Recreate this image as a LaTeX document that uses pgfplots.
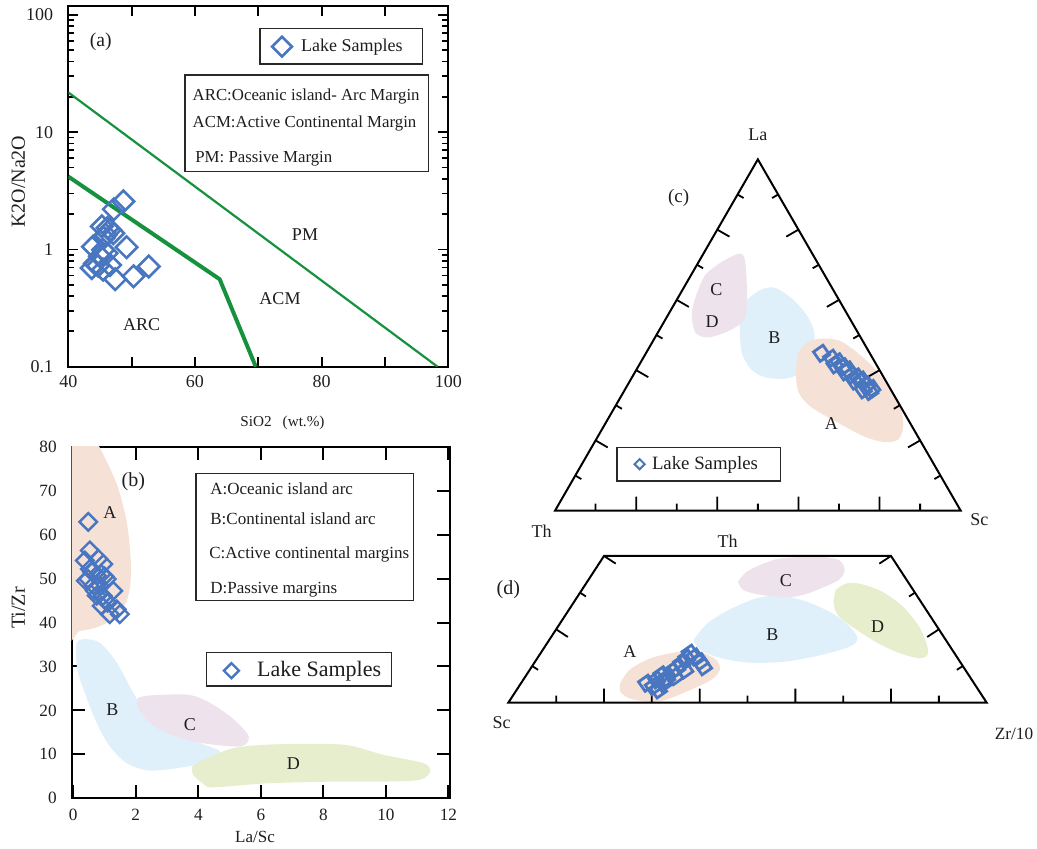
\documentclass[border=0pt]{standalone}
\usepackage{fontspec}
\setmainfont{Liberation Serif}
\usepackage{pgfplots}
\pgfplotsset{compat=1.18}
\definecolor{mk}{RGB}{72,118,192}
\definecolor{grl}{RGB}{22,146,62}
\definecolor{cA}{RGB}{246,225,214}
\definecolor{cB}{RGB}{223,240,250}
\definecolor{cC}{RGB}{238,226,236}
\definecolor{cD}{RGB}{231,238,206}
\definecolor{txt}{RGB}{30,30,30}
\definecolor{bx}{RGB}{40,40,40}
\newcommand{\fs}[1]{\fontsize{#1}{#1}\selectfont}
\pgfplotsset{
  reg/.style={fill=#1, draw=none, smooth, forget plot},
  edge/.style={black, line width=1pt, line join=miter, forget plot},
  tk/.style={black, line width=0.9pt, forget plot, unbounded coords=jump},
}
\begin{document}
\begin{tikzpicture}
\useasboundingbox (0,0) rectangle (518.5pt,424.5pt);
% ---------------- (a)
\begin{axis}[at={(34.15pt,241.15pt)}, anchor=south west, scale only axis,
  width=190pt, height=180.35pt,
  xmin=40, xmax=100, ymin=0.1, ymax=119, ymode=log,
  xtick={40,50,60,70,80,90,100}, xticklabels={40,,60,,80,,100},
  ytick={0.1,1,10,100}, yticklabels={0.1,1,10,100},
  minor ytick={0.2,0.3,0.4,0.5,0.6,0.7,0.8,0.9,2,3,4,5,6,7,8,9,20,30,40,50,60,70,80,90},
  major tick length=5pt, minor tick length=3pt,
  tick style={line width=0.9pt, black},
  axis line style={line width=0.9pt, black},
  ticklabel style={font=\fs{9}, text=txt},
  yticklabel style={xshift=-4pt}, xticklabel style={yshift=-1pt},
  legend style={draw=none, fill=none, at={(0.5353,0.8872)}, anchor=west,
    inner sep=0pt, nodes={inner sep=0pt}, column sep=4.65pt, font=\fs{9}, text=txt},
]
\addplot[grl, line width=1.1pt, forget plot] coordinates {(40,21.8) (98.3,0.1)};
\addplot[grl, line width=2pt, forget plot] coordinates {(40,4.18) (63.9,0.557) (69.6,0.1)};
\addplot[only marks, mark=square, mark size=3.8pt,
  mark options={rotate=45, line width=1.3pt, draw=mk, fill=none},
  legend image code/.code={\draw[mk, line width=1.3pt, mark=square, mark size=3.5pt, mark options={rotate=45}] plot coordinates {(0pt,0pt)};}]
coordinates {
(48.7,2.57) (47.2,2.20) (45.3,1.57) (46.6,1.47) (47.1,1.375) (45.9,1.332) (43.9,1.054)
(49.2,1.044) (45.5,0.991) (45.0,0.874) (44.2,0.758) (46.6,0.736) (52.7,0.715) (43.7,0.694)
(45.5,0.673) (47.4,0.557) (50.3,0.589) (44.7,0.726) (46.05,0.927) (46.2,1.524) (45.6,1.257)
};
\addlegendentry{Lake Samples}
\end{axis}
% ---------------- (b)
\begin{axis}[at={(35.85pt,25.35pt)}, anchor=south west, scale only axis,
  width=189.15pt, height=175.8pt,
  xmin=-0.05, xmax=12.05, ymin=0, ymax=80,
  xtick={0,2,4,6,8,10,12}, xticklabels={0,2,4,6,8,10,12},
  ytick={0,10,20,30,40,50,60,70,80}, yticklabels={0,10,20,30,40,50,60,70,80},
  major tick length=6.5pt,
  tick style={line width=1pt, black},
  axis line style={line width=1pt, black},
  ticklabel style={font=\fs{8.6}, text=txt},
  yticklabel style={xshift=-4pt}, xticklabel style={yshift=-2pt},
  legend style={draw=none, fill=none, at={(0.4013,0.3629)}, anchor=west,
    inner sep=0pt, nodes={inner sep=0pt}, column sep=9.1pt, font=\fs{11}, text=txt},
]
\addplot[reg=cA] coordinates {(-0.3,82) (0.6,82) (1.07,76.6) (1.44,70.5) (1.71,62.9) (1.83,55.2) (1.83,49.1) (1.69,44.6) (1.28,40.8) (0.75,38.9) (0.21,38.1) (-0.3,37.9) (-0.3,82)};
\addplot[reg=cB] coordinates {(0.43,36.2) (0.85,35.4) (1.39,30.9) (1.92,24.0) (2.35,19.4) (3.2,15.6) (4.05,12.6) (4.69,10.7) (4.48,8.8) (3.63,7.2) (2.45,6.3) (1.71,8.0) (1.17,11.8) (0.75,17.1) (0.37,24.0) (0.13,29.3) (0.11,35.4) (0.43,36.2)};
\addplot[reg=cC] coordinates {(2.08,22.9) (2.45,23.4) (3.63,23.6) (4.27,22.1) (5.01,18.7) (5.55,14.9) (5.6,13.0) (5.33,11.8) (4.48,12.2) (3.63,13.3) (2.77,15.6) (2.24,18.7) (2.03,21.7) (2.08,22.9)};
\addplot[reg=cD] coordinates {(3.79,7.2) (4.27,9.1) (5.12,11.4) (6.19,12.2) (7.79,12.4) (8.85,12.0) (9.92,9.9) (11.2,8.0) (11.41,6.1) (11.09,4.2) (9.92,3.8) (8.32,3.8) (6.19,3.4) (4.48,2.5) (4.16,3.3) (3.84,5.3) (3.79,7.2)};
\addplot[only marks, mark=square, mark size=3.1pt,
  mark options={rotate=45, line width=1.2pt, draw=mk, fill=none},
  legend image code/.code={\draw[mk, line width=1.2pt, mark=square, mark size=2.65pt, mark options={rotate=45}] plot coordinates {(0pt,0pt)};}]
coordinates {
(0.48,62.9) (0.53,56.4) (0.80,54.5) (0.37,54.1) (0.96,53.3) (0.53,52.2) (0.48,49.9)
(0.75,50.7) (1.07,49.9) (0.85,48.4) (1.28,47.2) (0.75,46.1) (1.01,45.3) (0.91,43.8)
(1.39,43.0) (1.17,41.9) (1.49,41.9) (0.69,47.2) (0.60,51.5) (0.90,51.0) (0.95,46.0)
(1.10,44.5) (0.65,48.5) (1.00,50.5) (0.40,49.5)
};
\addlegendentry{Lake Samples}
\node[font=\fs{10}, text=txt] at (axis cs:1.92,72.1) {(b)};
\node[font=\fs{9}, text=txt] at (axis cs:1.17,65.1) {A};
\node[font=\fs{9}, text=txt] at (axis cs:1.25,20.2) {B};
\node[font=\fs{9}, text=txt] at (axis cs:3.73,16.8) {C};
\node[font=\fs{9}, text=txt] at (axis cs:7.04,8.0) {D};
\end{axis}
% ---------------- (c)
\begin{axis}[at={(277.5pt,169.15pt)}, anchor=south west, scale only axis,
  width=202.85pt, height=175.65pt,
  xmin=0, xmax=1, ymin=0, ymax=1, hide axis, clip=false,
  legend style={draw=none, fill=none, at={(0.195,0.1324)}, anchor=west,
    inner sep=0pt, nodes={inner sep=0pt}, column sep=3.65pt, font=\fs{9.4}, text=txt},
]
\addplot[reg=cB] coordinates {(0.455,0.526) (0.468,0.592) (0.508,0.629) (0.543,0.634) (0.587,0.601) (0.622,0.554) (0.639,0.507) (0.635,0.451) (0.604,0.394) (0.569,0.376) (0.517,0.380) (0.482,0.404) (0.460,0.451) (0.455,0.526)};
\addplot[reg=cC] coordinates {(0.342,0.592) (0.368,0.667) (0.412,0.709) (0.455,0.732) (0.468,0.714) (0.473,0.638) (0.473,0.582) (0.464,0.540) (0.429,0.512) (0.377,0.493) (0.346,0.507) (0.337,0.554) (0.342,0.592)};
\addplot[reg=cA] coordinates {(0.600,0.451) (0.622,0.479) (0.657,0.490) (0.701,0.484) (0.744,0.451) (0.788,0.404) (0.832,0.338) (0.854,0.282) (0.858,0.235) (0.845,0.202) (0.814,0.195) (0.762,0.211) (0.692,0.254) (0.630,0.296) (0.600,0.338) (0.594,0.394) (0.600,0.451)};
\addplot[edge] coordinates {(0,0) (1,0) (0.5,1) (0,0) (1,0)};
\addplot[tk] coordinates {
(0.1,0) (0.1,0.0199) (0.1,nan) (0.2,0) (0.2,0.0399) (0.2,nan)
(0.3,0) (0.3,0.0199) (0.3,nan) (0.4,0) (0.4,0.0399) (0.4,nan)
(0.5,0) (0.5,0.0199) (0.5,nan) (0.6,0) (0.6,0.0399) (0.6,nan)
(0.7,0) (0.7,0.0199) (0.7,nan) (0.8,0) (0.8,0.0399) (0.8,nan)
(0.9,0) (0.9,0.0199) (0.9,nan)
(0.05,0.1) (0.0649,0.0900) (0.05,nan) (0.1,0.2) (0.1299,0.1801) (0.1,nan)
(0.15,0.3) (0.1649,0.2900) (0.15,nan) (0.2,0.4) (0.2299,0.3801) (0.2,nan)
(0.25,0.5) (0.2649,0.4900) (0.25,nan) (0.3,0.6) (0.3299,0.5801) (0.3,nan)
(0.35,0.7) (0.3649,0.6900) (0.35,nan) (0.4,0.8) (0.4299,0.7801) (0.4,nan)
(0.45,0.9) (0.4649,0.8900) (0.45,nan)
(0.95,0.1) (0.9351,0.0900) (0.95,nan) (0.9,0.2) (0.8701,0.1801) (0.9,nan)
(0.85,0.3) (0.8351,0.2900) (0.85,nan) (0.8,0.4) (0.7701,0.3801) (0.8,nan)
(0.75,0.5) (0.7351,0.4900) (0.75,nan) (0.7,0.6) (0.6701,0.5801) (0.7,nan)
(0.65,0.7) (0.6351,0.6900) (0.65,nan) (0.6,0.8) (0.5701,0.7801) (0.6,nan)
(0.55,0.9) (0.5351,0.8900)
};
\addplot[only marks, mark=square, mark size=2.9pt,
  mark options={rotate=35, line width=1.4pt, draw=mk, fill=none},
  legend image code/.code={\draw[mk, line width=1pt, mark=square, mark size=1.8pt, mark options={rotate=45}] plot coordinates {(0pt,0pt)};}]
coordinates {
(0.657,0.448) (0.682,0.434) (0.698,0.424) (0.711,0.410) (0.723,0.401) (0.731,0.386)
(0.744,0.381) (0.756,0.372) (0.768,0.358) (0.781,0.348) (0.776,0.339) (0.760,0.344)
(0.690,0.415) (0.715,0.395) (0.739,0.369)
};
\addlegendentry{Lake Samples}
\node[font=\fs{9}, text=txt] at (axis cs:0.681,0.249) {A};
\node[font=\fs{9}, text=txt] at (axis cs:0.541,0.493) {B};
\node[font=\fs{9}, text=txt] at (axis cs:0.398,0.629) {C};
\node[font=\fs{9}, text=txt] at (axis cs:0.387,0.537) {D};
\end{axis}
% ---------------- (d)
\begin{axis}[at={(254.15pt,73.15pt)}, anchor=south west, scale only axis,
  width=239.2pt, height=73.35pt,
  xmin=0, xmax=1, ymin=0, ymax=0.4, hide axis, clip=false,
]
\addplot[reg=cA] coordinates {(0.234,0.053) (0.253,0.089) (0.297,0.121) (0.357,0.139) (0.401,0.139) (0.435,0.116) (0.442,0.089) (0.424,0.062) (0.372,0.030) (0.327,0.007) (0.290,0.003) (0.253,0.012) (0.234,0.030) (0.234,0.053)};
\addplot[reg=cB] coordinates {(0.387,0.171) (0.416,0.216) (0.461,0.253) (0.520,0.285) (0.572,0.291) (0.625,0.275) (0.677,0.244) (0.714,0.207) (0.730,0.175) (0.714,0.153) (0.654,0.130) (0.580,0.112) (0.506,0.109) (0.446,0.121) (0.401,0.144) (0.387,0.171)};
\addplot[reg=cC] coordinates {(0.480,0.330) (0.498,0.357) (0.535,0.380) (0.572,0.394) (0.647,0.398) (0.691,0.389) (0.703,0.362) (0.691,0.335) (0.654,0.312) (0.617,0.294) (0.580,0.287) (0.528,0.294) (0.491,0.307) (0.480,0.330)};
\addplot[reg=cD] coordinates {(0.684,0.307) (0.706,0.325) (0.736,0.324) (0.781,0.303) (0.825,0.262) (0.859,0.207) (0.876,0.153) (0.876,0.130) (0.859,0.121) (0.818,0.135) (0.773,0.162) (0.729,0.198) (0.691,0.235) (0.680,0.271) (0.684,0.307)};
\addplot[edge] coordinates {(0,0) (1,0) (0.8,0.4) (0.2,0.4) (0,0) (1,0)};
\addplot[tk] coordinates {
(0.1,0) (0.1,0.0191) (0.1,nan) (0.2,0) (0.2,0.0382) (0.2,nan)
(0.3,0) (0.3,0.0191) (0.3,nan) (0.4,0) (0.4,0.0382) (0.4,nan)
(0.5,0) (0.5,0.0191) (0.5,nan) (0.6,0) (0.6,0.0382) (0.6,nan)
(0.7,0) (0.7,0.0191) (0.7,nan) (0.8,0) (0.8,0.0382) (0.8,nan)
(0.9,0) (0.9,0.0191) (0.9,nan)
(0.05,0.1) (0.0623,0.0896) (0.05,nan) (0.1,0.2) (0.1245,0.1792) (0.1,nan)
(0.15,0.3) (0.1623,0.2896) (0.15,nan) (0.2,0.4) (0.2245,0.3792) (0.2,nan)
(0.95,0.1) (0.9377,0.0896) (0.95,nan) (0.9,0.2) (0.8755,0.1792) (0.9,nan)
(0.85,0.3) (0.8377,0.2896) (0.85,nan) (0.8,0.4) (0.7755,0.3792)
};
\addplot[only marks, mark=square, mark size=2.9pt,
  mark options={rotate=35, line width=1.4pt, draw=mk, fill=none}, forget plot]
coordinates {
(0.289,0.053) (0.303,0.044) (0.310,0.062) (0.321,0.076) (0.331,0.067) (0.342,0.085)
(0.352,0.094) (0.348,0.071) (0.362,0.107) (0.373,0.121) (0.380,0.135) (0.390,0.125)
(0.401,0.112) (0.408,0.098) (0.369,0.089) (0.324,0.053) (0.314,0.035)
};
\node[font=\fs{9}, text=txt] at (axis cs:0.254,0.139) {A};
\node[font=\fs{9}, text=txt] at (axis cs:0.552,0.186) {B};
\node[font=\fs{9}, text=txt] at (axis cs:0.580,0.333) {C};
\node[font=\fs{9}, text=txt] at (axis cs:0.772,0.207) {D};
\end{axis}
% ---------------- annotations (pixel coordinates of the reference)
\begin{scope}[shift={(0pt,424.5pt)}, x=0.5pt, y=-0.5pt]
 % (a)
 \node[font=\fs{9.8}, text=txt] at (100.8,41.7) {(a)};
 \draw[bx, line width=0.7pt] (260,28.3) rectangle (422.7,64);
 \draw[bx, line width=0.7pt] (185,75) rectangle (428.3,171.7);
 \node[font=\fs{8.4}, text=txt, anchor=west, inner sep=0pt] at (192.3,96.7) {ARC:Oceanic island- Arc Margin};
 \node[font=\fs{8.4}, text=txt, anchor=west, inner sep=0pt] at (192.3,124) {ACM:Active Continental Margin};
 \node[font=\fs{8.4}, text=txt, anchor=west, inner sep=0pt] at (195,158.3) {PM: Passive Margin};
 \node[font=\fs{9}, text=txt] at (305,235) {PM};
 \node[font=\fs{9}, text=txt] at (280,298.3) {ACM};
 \node[font=\fs{9}, text=txt] at (141.7,325) {ARC};
 \node[font=\fs{10}, text=txt, rotate=90] at (18.3,181.7) {K2O/Na2O};
 \node[font=\fs{7.6}, text=txt] at (282.5,423) {SiO2\hspace{5.5pt}(wt.\%)};
 % (b)
 \draw[bx, line width=0.7pt] (196,473.3) rectangle (413.3,600.7);
 \node[font=\fs{8.5}, text=txt, anchor=west, inner sep=0pt] at (210,488.3) {A:Oceanic island arc};
 \node[font=\fs{8.5}, text=txt, anchor=west, inner sep=0pt] at (210,518.3) {B:Continental island arc};
 \node[font=\fs{8.5}, text=txt, anchor=west, inner sep=0pt] at (209,554) {C:Active continental margins};
 \node[font=\fs{8.5}, text=txt, anchor=west, inner sep=0pt] at (210,589.3) {D:Passive margins};
 \draw[bx, line width=0.7pt] (206.7,652.7) rectangle (391.7,686);
 \node[font=\fs{10}, text=txt, rotate=90] at (18.3,608) {Ti/Zr};
 \node[font=\fs{8.5}, text=txt] at (255,836.7) {La/Sc};
 % (c)
 \node[font=\fs{9}, text=txt] at (757.85,135) {La};
 \node[font=\fs{9}, text=txt] at (541.7,531.7) {Th};
 \node[font=\fs{9}, text=txt] at (979.3,520) {Sc};
 \node[font=\fs{9.5}, text=txt] at (678.6,198) {(c)};
 \draw[bx, line width=0.7pt] (617,447.5) rectangle (780.6,481);
 % (d)
 \node[font=\fs{9}, text=txt] at (727.6,541) {Th};
 \node[font=\fs{10}, text=txt] at (508.3,589.3) {(d)};
 \node[font=\fs{9}, text=txt] at (501.7,722.7) {Sc};
 \node[font=\fs{8.6}, text=txt] at (1014,734.3) {Zr/10};
\end{scope}
\end{tikzpicture}
\end{document}
